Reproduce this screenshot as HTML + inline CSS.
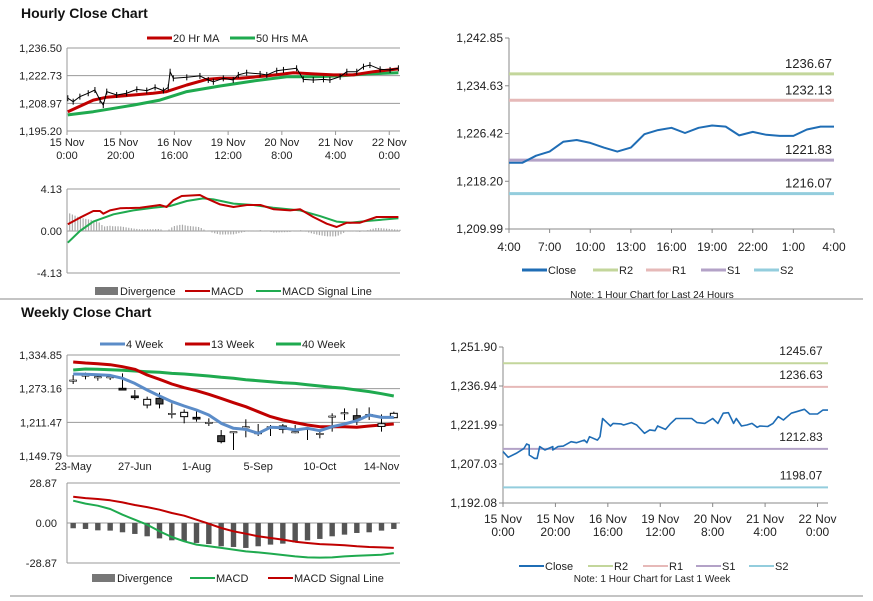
<!DOCTYPE html>
<html><head><meta charset="utf-8"><style>
html,body{margin:0;padding:0;background:#fff;}
svg{display:block;font-family:"Liberation Sans",Arial,sans-serif;}
</style></head><body>
<svg id="s" width="873" height="601" viewBox="0 0 873 601" xmlns="http://www.w3.org/2000/svg">
<rect width="873" height="601" fill="#fff"/>
<text x="21" y="18" font-size="14" font-weight="bold" fill="#111">Hourly Close Chart</text>
<text x="21" y="317" font-size="14" font-weight="bold" fill="#111">Weekly Close Chart</text>
<line x1="0" y1="299" x2="863" y2="299" stroke="#888"/>
<line x1="10" y1="596" x2="863" y2="596" stroke="#888"/>
<g id="g"></g>
</svg>
<script>
// ---------- Hourly price chart (top-left) ----------
const hpHours=[0.3,2.3,4.8,7.9,10.4,12.3,13.5,14.8,18.5,22.2,26,29.7,32.8,35.9,37.7,38.4,39.6,44.6,49.5,52.6,54.5,58.2,61.9,63.8,66.9,71.9,74.4,78.1,80.6,85.5,88,91.7,95.5,97.9,101.7,104.2,107.9,110.4,112.8,116.6,120.3,123.4];
const hpClose=[1211.5,1209.8,1212.3,1214.0,1215.6,1210.6,1208.1,1214.8,1213.1,1214.0,1215.9,1215.3,1216.9,1215.3,1216.9,1224.7,1221.4,1221.9,1222.6,1220.6,1219.7,1221.4,1220.6,1223.1,1224.2,1223.6,1223.1,1225.2,1225.6,1226.4,1220.9,1220.6,1220.9,1220.6,1222.2,1224.7,1224.7,1227.2,1228.0,1225.9,1225.6,1226.4];
const ma20Hours=[0.3,9.8,14.8,24.7,32.1,37.1,44.6,52,57,64.4,74.4,84.3,91.7,99.2,106.6,114.1,123.4];
const ma20=[1204.8,1210.6,1212.0,1213.1,1214.0,1214.8,1218.1,1220.9,1221.4,1221.4,1222.6,1224.2,1223.6,1223.1,1223.1,1224.7,1226.1];
const ma50Hours=[0.3,9.8,24.7,34.6,44.6,57,69.4,81.8,91.7,101.7,111.6,123.4];
const ma50=[1203.2,1204.8,1208.1,1210.6,1214.8,1217.6,1220.1,1222.2,1222.2,1222.6,1223.6,1224.2];
const hpTicks=[1236.50,1222.73,1208.97,1195.20];
const hourLabelHours=[0,20,40,60,80,100,120];
const hourLabels=[["15 Nov","0:00"],["15 Nov","20:00"],["16 Nov","16:00"],["19 Nov","12:00"],["20 Nov","8:00"],["21 Nov","4:00"],["22 Nov","0:00"]];
// hourly MACD
const hmMacdHours=[0.3,4.8,9.8,12.3,13.5,16,19.7,27.2,34.6,37.1,39.6,42.7,49.5,52,57,62,67,72,77,83.1,86.8,91.7,96.7,100.4,104.2,109.1,115.3,123.4];
const hmMacd=[0.66,1.31,1.97,1.97,1.70,2.03,2.23,2.29,2.56,2.36,3.02,3.44,3.54,3.21,2.62,2.36,2.56,2.56,2.13,2.03,2.13,1.38,0.72,0.39,0.82,0.82,1.38,1.38];
const hmSigHours=[0.3,4.8,9.8,17.3,24.7,32.1,38.4,44.6,50.7,54.5,62,69.4,76.8,86.8,94.2,100.4,105.4,111.6,123.4];
const hmSig=[-1.15,0,0.92,1.64,2.03,2.29,2.46,2.95,3.21,3.11,2.69,2.56,2.29,2.03,1.47,0.92,0.82,0.98,1.25];
const hmTicks=[4.13,0.00,-4.13];
// ---------- 24h chart (top-right) ----------
const d24Labels=["4:00","7:00","10:00","13:00","16:00","19:00","22:00","1:00","4:00"];
const d24Close=[1221.4,1221.4,1222.6,1223.3,1225.0,1225.3,1224.8,1224.0,1223.3,1224.0,1226.3,1227.0,1227.4,1226.5,1227.4,1227.8,1227.6,1226.1,1226.7,1226.2,1226.0,1226.0,1227.1,1227.6,1227.6];
const d24Levels=[1236.67,1232.13,1221.83,1216.07];
const d24Ticks=[1242.85,1234.63,1226.42,1218.20,1209.99];
// ---------- 1 week chart (bottom-right) ----------
const wkHours=[0,2,5,8,9,10,10,12,13,14,16,19,19,21,23,26,28,31,32,33,36,37,38,40,41,42,45,46,49,51,54,56,58,59,62,64,66,72,74,77,80,82,84,86,88,89,91,93,95,97,98,101,103,105,107,110,112,115,117,120,122,124];
const wkClose=[1211.8,1209.6,1211.1,1213.0,1214.7,1214.3,1210.5,1209.2,1209.2,1213.7,1212.4,1213.7,1212.4,1213.7,1213.9,1215.6,1215.2,1216.2,1215.2,1217.5,1216.2,1217.5,1224.5,1222.6,1221.6,1222.6,1222.4,1222.0,1222.9,1222.0,1218.8,1220.1,1219.8,1221.6,1220.3,1222.6,1224.5,1224.5,1222.9,1222.6,1224.5,1222.6,1226.5,1226.7,1222.6,1224.5,1221.6,1222.0,1222.6,1221.1,1221.6,1221.4,1222.6,1225.2,1223.9,1226.5,1227.1,1228.0,1226.2,1226.2,1227.7,1227.7];
const wkLevels=[1245.67,1236.63,1212.83,1198.07];
const wkTicks=[1251.90,1236.94,1221.99,1207.03,1192.08];
// ---------- Weekly candles (bottom-left) ----------
const wLabels=["23-May","27-Jun","1-Aug","5-Sep","10-Oct","14-Nov"];
const wLabelIdx=[0,5,10,15,20,25];
const wOpen=[1289,1298.2,1295.1,1295.1,1273.8,1259.7,1243.2,1255.4,1228.0,1221.9,1220.6,1211.5,1187.0,1194.4,1203.5,1192.5,1203.5,1198.6,1194.4,1200.5,1191.3,1223.1,1229.2,1223.7,1226.1,1204.0,1220.0];
const wClose=[1289,1298.2,1295.1,1295.1,1270.7,1256.7,1253.6,1245.1,1228.0,1229.8,1217.6,1211.5,1176.1,1194.4,1203.5,1192.5,1203.5,1204.8,1194.4,1200.5,1191.3,1223.1,1229.2,1215.8,1226.1,1209.0,1228.0];
const wHigh=[1298.2,1302.5,1300.0,1300.0,1301.2,1270.7,1258.5,1265.8,1246.3,1235.3,1234.1,1218.8,1197.4,1194.4,1217.0,1208.4,1206.6,1208.4,1206.6,1202.3,1197.4,1228.0,1237.1,1237.1,1238.9,1226.1,1231.0];
const wLow=[1281.7,1290.3,1287.8,1289.0,1270.7,1252.4,1237.1,1237.1,1218.8,1209.7,1212.7,1204.8,1173.0,1160.8,1184.0,1186.4,1186.4,1191.3,1191.3,1179.1,1182.2,1194.4,1215.8,1206.6,1215.8,1194.4,1218.8];
const w4=[1300.0,1299.7,1298.5,1297.5,1292.1,1282.9,1270.7,1259.7,1249.4,1241.4,1234.1,1224.9,1209.7,1200.5,1198.6,1191.3,1202.3,1201.7,1197.4,1200.5,1196.2,1203.5,1208.4,1214.5,1224.9,1220.6,1220.6];
const w13=[1322.0,1320.2,1319.0,1317.1,1313.5,1308.6,1298.2,1290.3,1281.7,1275.0,1269.5,1262.8,1255.4,1247.5,1240.2,1231.0,1221.9,1215.8,1210.9,1206.6,1203.5,1203.5,1203.5,1202.3,1204.8,1206.6,1208.4];
const w40=[1307.4,1309.2,1308.6,1308.0,1306.8,1305.5,1304.3,1303.1,1301.2,1300.0,1298.2,1296.4,1293.9,1292.1,1289.6,1287.8,1286.0,1284.1,1282.9,1280.5,1278.0,1275.6,1273.8,1270.7,1267.7,1264.0,1259.7];
const wTicks=[1334.85,1273.16,1211.47,1149.79];
const wmMacd=[16.1,14.0,12.5,10.1,6.0,2.4,-1.2,-6.0,-10.1,-13.2,-15.6,-16.8,-18.0,-19.2,-20.5,-21.2,-22.1,-23.1,-24.1,-24.8,-25.0,-24.8,-24.1,-23.6,-23.3,-22.9,-21.7];
const wmSig=[19.0,18.0,17.3,16.4,14.9,13.0,11.5,9.6,7.2,5.3,2.4,-0.5,-3.6,-6.0,-7.7,-9.6,-10.8,-12.0,-13.5,-14.4,-15.2,-15.6,-16.1,-16.8,-17.3,-17.6,-18.0];
const wmDiv=[-3.8,-4.3,-5.3,-5.5,-6.7,-7.9,-9.6,-11.1,-12.5,-13.2,-14.4,-15.2,-16.8,-17.3,-18.0,-16.8,-15.6,-14.9,-14.0,-12.5,-11.5,-9.6,-8.4,-7.2,-6.7,-5.5,-4.3];
const wmTicks=[28.87,0.00,-28.87];

const NS="http://www.w3.org/2000/svg";
const G=document.getElementById('g');
function mk(tag,attrs,parent){const e=document.createElementNS(NS,tag);for(const k in attrs)e.setAttribute(k,attrs[k]);(parent||G).appendChild(e);return e;}
function lin(d0,d1,r0,r1){return v=>r0+(v-d0)*(r1-r0)/(d1-d0);}
function fmt(v){const s=Math.abs(v).toFixed(2).split('.');return (v<0?'-':'')+s[0].replace(/\B(?=(\d{3})+(?!\d))/g,',')+'.'+s[1];}
function txt(x,y,s,anchor,size,name){const t=mk('text',{x:x,y:y,'font-size':size||11,'text-anchor':anchor||'start',fill:'#222'});t.textContent=s;


return t;}
function pline(xs,ys,X,Y,color,w,name){const p=xs.map((x,i)=>X(x).toFixed(1)+','+Y(ys[i]).toFixed(1)).join(' ');const e=mk('polyline',{points:p,fill:'none',stroke:color,'stroke-width':w,'stroke-linejoin':'round'});


return e;}
function ln(x1,y1,x2,y2,c,w,name){const e=mk('line',{x1:x1,y1:y1,x2:x2,y2:y2,stroke:c,'stroke-width':w});


return e;}
function legendLine(x,y,c,w,label,name){ln(x,y,x+25,y,c,w,name+'-swatch');txt(x+26,y+4,label,'start',11,name+'-label');}
function legendBox(x,y,label,name){const r=mk('rect',{x:x,y:y-4,width:23,height:8,fill:'#777'});


txt(x+25,y+4,label,'start',11,name+'-label');}

// ===== Hourly price chart =====
(function(){
 const X=lin(0,124,67,400),Y=lin(1195.20,1236.50,131,48);
 hpTicks.forEach(t=>{ln(67,Y(t),400,Y(t),'#999',1,'hourly-gridline');txt(62,Y(t)+4,fmt(t),'end',11,'hourly-y-tick');});
 ln(67,48,67,131,'#999',1,'hourly-y-axis');
 hourLabelHours.forEach((h,i)=>{ln(X(h),131,X(h),135,'#999',1,'hourly-x-tickmark');txt(X(h),146,hourLabels[i][0],'middle',11,'hourly-x-tick');txt(X(h),159,hourLabels[i][1],'middle',11,'hourly-x-tick');});
 pline(ma50Hours,ma50,X,Y,'#1faa4f',3,'ma50-line');
 pline(ma20Hours,ma20,X,Y,'#c00000',3,'ma20-line');
 pline(hpHours,hpClose,X,Y,'#000',1,'hourly-price-line');
 hpHours.forEach((h,i)=>{ln(X(h),Y(hpClose[i])-3,X(h),Y(hpClose[i])+3,'#000',1,'hourly-price-tick');});
 legendLine(147,38,'#c00000',3,'20 Hr MA','legend-ma20');
 legendLine(230,38,'#1faa4f',3,'50 Hrs MA','legend-ma50');
})();
// ===== Hourly MACD =====
(function(){
 const X=lin(0,124,67,400),Y=lin(-4.13,4.13,273,189);
 hmTicks.forEach(t=>{ln(67,Y(t),400,Y(t),'#999',1,'hourly-macd-gridline');txt(62,Y(t)+4,fmt(t),'end',11,'hourly-macd-y-tick');});
 ln(67,189,67,273,'#999',1,'hourly-macd-y-axis');
 function interp(xs,ys,h){if(h<=xs[0])return ys[0];for(let i=1;i<xs.length;i++){if(h<=xs[i]){const f=(h-xs[i-1])/(xs[i]-xs[i-1]);return ys[i-1]+f*(ys[i]-ys[i-1]);}}return ys[ys.length-1];}
 for(let h=0;h<=124;h++){const d=interp(hmMacdHours,hmMacd,h)-interp(hmSigHours,hmSig,h);const y0=Y(0),y1=Y(d);
  const r=mk('rect',{x:X(h)-0.6,y:Math.min(y0,y1),width:1.2,height:Math.abs(y1-y0),fill:'#aaa'});
  
  }
 pline(hmSigHours,hmSig,X,Y,'#1faa4f',2,'hourly-signal-line');
 pline(hmMacdHours,hmMacd,X,Y,'#c00000',2,'hourly-macd-line');
 legendBox(95,291,'Divergence','legend-hourly-divergence');
 legendLine(185,291,'#c00000',2,'MACD','legend-hourly-macd');
 legendLine(256,291,'#1faa4f',2,'MACD Signal Line','legend-hourly-signal');
})();
// ===== 24h chart =====
(function(){
 const X=lin(0,24,509,834),Y=lin(1209.99,1242.85,229,38);
 ln(509,38,509,229,'#888',1,'d24-y-axis');ln(509,229,834,229,'#888',1,'d24-x-axis');
 d24Ticks.forEach(t=>{ln(505,Y(t),509,Y(t),'#888',1,'d24-y-tickmark');txt(503,Y(t)+4,fmt(t),'end',12,'d24-y-tick');});
 d24Labels.forEach((l,i)=>{ln(X(i*3),229,X(i*3),233,'#888',1,'d24-x-tickmark');txt(X(i*3),251,l,'middle',12,'d24-x-tick');});
 const cols=['#c3d69b','#e6b9b8','#b3a2c7','#93cddd'];const nm=['r2','r1','s1','s2'];
 d24Levels.forEach((v,i)=>{ln(509,Y(v),834,Y(v),cols[i],3,'d24-'+nm[i]+'-line');txt(832,Y(v)-6,v.toFixed(2),'end',13,'d24-'+nm[i]+'-label');});
 pline(d24Close.map((v,i)=>i),d24Close,X,Y,'#1f6db5',2,'d24-close-line');
 legendLine(522,270,'#1f6db5',3,'Close','legend-d24-close');
 legendLine(593,270,cols[0],3,'R2','legend-d24-r2');
 legendLine(646,270,cols[1],3,'R1','legend-d24-r1');
 legendLine(701,270,cols[2],3,'S1','legend-d24-s1');
 legendLine(754,270,cols[3],3,'S2','legend-d24-s2');
 txt(652,298,'Note: 1 Hour Chart for Last 24 Hours','middle',10,'d24-note');
})();
// ===== 1-week hourly chart =====
(function(){
 const X=lin(0,124,503,828),Y=lin(1192.08,1251.90,503,347);
 ln(503,347,503,503,'#888',1,'wk-y-axis');ln(503,503,828,503,'#888',1,'wk-x-axis');
 wkTicks.forEach(t=>{ln(499,Y(t),503,Y(t),'#888',1,'wk-y-tickmark');txt(497,Y(t)+4,fmt(t),'end',12,'wk-y-tick');});
 hourLabelHours.forEach((h,i)=>{ln(X(h),503,X(h),507,'#888',1,'wk-x-tickmark');txt(X(h),523,hourLabels[i][0],'middle',12,'wk-x-tick');txt(X(h),536,hourLabels[i][1],'middle',12,'wk-x-tick');});
 const cols=['#c3d69b','#e6b9b8','#b3a2c7','#93cddd'];const nm=['r2','r1','s1','s2'];
 wkLevels.forEach((v,i)=>{ln(503,Y(v),828,Y(v),cols[i],2,'wk-'+nm[i]+'-line');txt(828-27,Y(v)-8,v.toFixed(2),'middle',12,'wk-'+nm[i]+'-label');});
 pline(wkHours,wkClose,X,Y,'#1f6db5',1.6,'wk-close-line');
 legendLine(519,566,'#1f6db5',2,'Close','legend-wk-close');
 legendLine(588,566,cols[0],2,'R2','legend-wk-r2');
 legendLine(643,566,cols[1],2,'R1','legend-wk-r1');
 legendLine(696,566,cols[2],2,'S1','legend-wk-s1');
 legendLine(749,566,cols[3],2,'S2','legend-wk-s2');
 txt(652,582,'Note: 1 Hour Chart for Last 1 Week','middle',10,'wk-note');
})();
// ===== Weekly candles =====
(function(){
 const n=wOpen.length,bw=333/n;const X=i=>67+(i+0.5)*bw,Y=lin(1149.79,1334.85,456,355);
 wTicks.forEach(t=>{ln(67,Y(t),400,Y(t),'#999',1,'weekly-gridline');txt(62,Y(t)+4,fmt(t),'end',11,'weekly-y-tick');});
 ln(67,355,67,456,'#999',1,'weekly-y-axis');
 wLabelIdx.forEach((k,i)=>{txt(X(k),470,wLabels[i],'middle',11,'weekly-x-tick');});
 pline(w40.map((v,i)=>i),w40,X,Y,'#1faa4f',3,'ma40-week-line');
 pline(w13.map((v,i)=>i),w13,X,Y,'#c00000',3,'ma13-week-line');
 for(let i=0;i<n;i++){
  const x=X(i);ln(x,Y(wHigh[i]),x,Y(wLow[i]),'#000',1,'candle-wick');
  const top=Y(Math.max(wOpen[i],wClose[i])),bot=Y(Math.min(wOpen[i],wClose[i]));
  const r=mk('rect',{x:x-3.5,y:top,width:7,height:Math.max(bot-top,1.2),fill:wClose[i]<wOpen[i]?'#404040':'#fff',stroke:'#000','stroke-width':(bot-top)<1.5?0.6:1});
  
  
 }
 pline(w4.map((v,i)=>i),w4,X,Y,'#5b8cc8',3,'ma4-week-line');
 legendLine(100,344,'#5b8cc8',3,'4 Week','legend-4week');
 legendLine(185,344,'#c00000',3,'13 Week','legend-13week');
 legendLine(276,344,'#1faa4f',3,'40 Week','legend-40week');
})();
// ===== Weekly MACD =====
(function(){
 const n=wmMacd.length,bw=333/n;const X=i=>67+(i+0.5)*bw,Y=lin(-28.87,28.87,563,483);
 wmTicks.forEach(t=>{ln(67,Y(t),400,Y(t),'#999',1,'weekly-macd-gridline');txt(57,Y(t)+4,fmt(t),'end',11,'weekly-macd-y-tick');});
 ln(67,483,67,563,'#999',1,'weekly-macd-y-axis');
 wmDiv.forEach((d,i)=>{const y0=Y(0),y1=Y(d);const r=mk('rect',{x:X(i)-2.7,y:Math.min(y0,y1),width:5.4,height:Math.abs(y1-y0),fill:'#555'});
  
  });
 pline(wmSig.map((v,i)=>i),wmSig,X,Y,'#c00000',2,'weekly-signal-line');
 pline(wmMacd.map((v,i)=>i),wmMacd,X,Y,'#1faa4f',2,'weekly-macd-line');
 legendBox(92,578,'Divergence','legend-weekly-divergence');
 legendLine(190,578,'#1faa4f',2,'MACD','legend-weekly-macd');
 legendLine(268,578,'#c00000',2,'MACD Signal Line','legend-weekly-signal');
})();
</script>
</body></html>
